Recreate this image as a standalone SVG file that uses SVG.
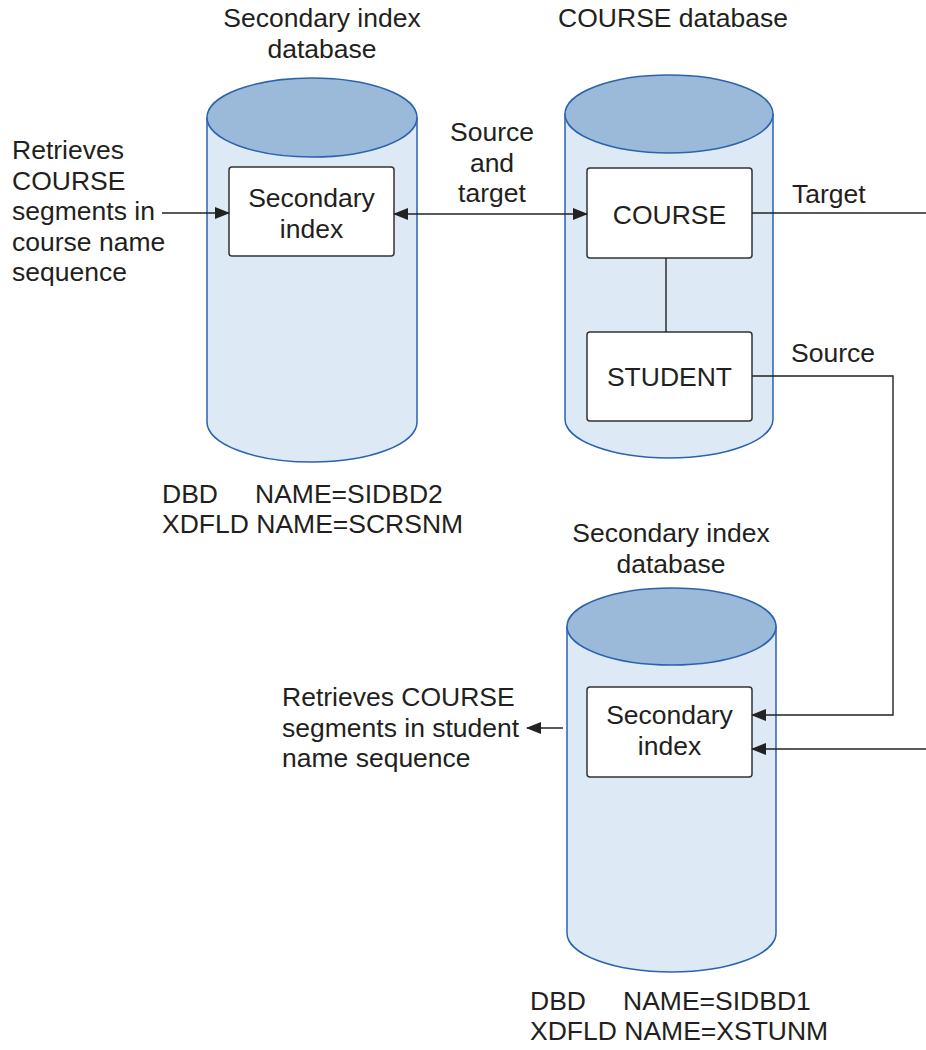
<svg xmlns="http://www.w3.org/2000/svg" width="926" height="1050" viewBox="0 0 926 1050">
<defs>
<marker id="ah" markerWidth="15" markerHeight="12" refX="14" refY="6" orient="auto-start-reverse" markerUnits="userSpaceOnUse">
<path d="M0,0 L15,6 L0,12 Z" fill="#222"/>
</marker>
<style>
text{font-family:"Liberation Sans",Arial,sans-serif;font-size:26.5px;fill:#231f20}
.body{fill:#dde9f5;stroke:#2b63ae;stroke-width:1.5}
.top{fill:#9bb9d9;stroke:#2b63ae;stroke-width:1.5}
.box{fill:#fff;stroke:#333;stroke-width:1.5}
.ln{fill:none;stroke:#222;stroke-width:1.4}
.c{text-anchor:middle}
</style>
</defs>
<rect width="926" height="1050" fill="#fff"/>

<g id="sidb2">
<path class="body" d="M207,117.5 L207,422 A105,40 0 0 0 417,422 L417,117.5 Z"/>
<ellipse class="top" cx="312" cy="117.5" rx="105" ry="39.5"/>
<text class="c" x="322" y="27">Secondary index</text>
<text class="c" x="322" y="58">database</text>
<text x="162" y="503">DBD</text><text x="255" y="503">NAME=SIDBD2</text>
<text x="162" y="533">XDFLD NAME=SCRSNM</text>
</g>
<g id="sidx1">
<rect class="box" x="229" y="167" width="165" height="89" rx="3"/>
<text class="c" x="311.5" y="207">Secondary</text>
<text class="c" x="311.5" y="238">index</text>
</g>

<g id="coursedb">
<path class="body" d="M565,114 L565,419 A104,39 0 0 0 773,419 L773,114 Z"/>
<ellipse class="top" cx="669" cy="114" rx="104" ry="39"/>
<text class="c" x="673" y="27">COURSE database</text>
</g>
<g id="course">
<rect class="box" x="587" y="168" width="165" height="90" rx="3"/>
<text class="c" x="669.5" y="224">COURSE</text>
</g>
<g id="student">
<rect class="box" x="587" y="332" width="165" height="89" rx="3"/>
<text class="c" x="669.5" y="386">STUDENT</text>
</g>

<g id="sidb1">
<path class="body" d="M567,626.5 L567,933 A104.5,39 0 0 0 776,933 L776,626.5 Z"/>
<ellipse class="top" cx="671.5" cy="626.5" rx="104.5" ry="38.5"/>
<text class="c" x="671" y="542">Secondary index</text>
<text class="c" x="671" y="573">database</text>
<text x="530" y="1010">DBD</text><text x="623" y="1010">NAME=SIDBD1</text>
<text x="530" y="1040">XDFLD NAME=XSTUNM</text>
</g>
<g id="sidx2">
<rect class="box" x="587" y="687" width="165" height="90" rx="3"/>
<text class="c" x="669.5" y="724">Secondary</text>
<text class="c" x="669.5" y="755">index</text>
</g>

<g id="labels">
<text x="12" y="159">Retrieves</text>
<text x="12" y="190">COURSE</text>
<text x="12" y="220">segments in</text>
<text x="12" y="251">course name</text>
<text x="12" y="281">sequence</text>
<text class="c" x="492" y="141">Source</text>
<text class="c" x="492" y="172">and</text>
<text class="c" x="492" y="202">target</text>
<text x="792" y="203">Target</text>
<text x="791" y="362">Source</text>
<text x="282" y="706">Retrieves COURSE</text>
<text x="282" y="737">segments in student</text>
<text x="282" y="767">name sequence</text>
</g>

<g id="connectors">
<line class="ln" x1="162" y1="213" x2="229" y2="213" marker-end="url(#ah)"/>
<line class="ln" x1="394" y1="214" x2="587" y2="214" marker-start="url(#ah)" marker-end="url(#ah)"/>
<line class="ln" x1="666" y1="258" x2="666" y2="332"/>
<line class="ln" x1="752" y1="213" x2="926" y2="213"/>
<polyline class="ln" points="752,376 893,376 893,715 752,715" marker-end="url(#ah)"/>
<line class="ln" x1="926" y1="749" x2="752" y2="749" marker-end="url(#ah)"/>
<line class="ln" x1="563" y1="728" x2="527" y2="728" marker-end="url(#ah)"/>
</g>
</svg>
